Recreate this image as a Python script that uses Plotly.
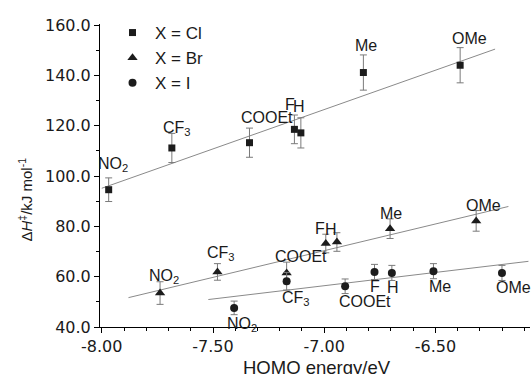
import numpy as np
import plotly.graph_objects as go

# ---------------- data ----------------
subst = ["NO<sub>2</sub>", "CF<sub>3</sub>", "COOEt", "F", "H", "Me", "OMe"]

cl_x = [-7.969, -7.685, -7.336, -7.134, -7.105, -6.824, -6.389]
cl_y = [94.6, 111.2, 113.3, 118.6, 117.2, 141.2, 144.1]
cl_err = [4.7, 5.8, 5.8, 5.7, 6.0, 7.0, 7.0]

br_x = [-7.738, -7.480, -7.169, -6.993, -6.943, -6.704, -6.317]
br_y = [53.5, 61.9, 61.5, 73.2, 73.8, 79.1, 82.2]
br_err = [4.5, 3.3, 4.3, 3.7, 3.7, 3.9, 4.1]

i_x = [-7.405, -7.169, -6.906, -6.774, -6.696, -6.509, -6.201]
i_y = [47.6, 58.2, 56.2, 61.9, 61.5, 62.2, 61.5]
i_err = [2.7, 3.5, 2.9, 3.0, 3.0, 3.0, 3.0]

series_names = ["X = Cl", "X = Br", "X = I"]
fit_ranges = [(-8.0, -6.232), (-7.880, -6.172), (-7.521, -6.082)]

x_tickvals = [-8.0, -7.5, -7.0, -6.5]
x_ticktext = ["-8.00", "-7.50", "-7.00", "-6.50"]
y_tickvals = [40, 60, 80, 100, 120, 140, 160]
y_ticktext = ["40.0", "60.0", "80.0", "100.0", "120.0", "140.0", "160.0"]

# label offsets in px (dx, dy up)
cl_off = [(4, 25), (5, 19), (18, 25), (-4, 25), (-2, 26), (3, 27), (9, 27)]
br_off = [(4, 17), (4, 18), (14, 16), (-6, 15), (-6, 13), (1, 15), (7, 15)]
i_off = [(8, -17), (9, -17), (20, -15), (0, -15), (1, -15), (7, -15), (12, -15)]

# ---------------- figure ----------------
fig = go.Figure()
mark_col = "#1c1c1c"
err_col = "#7a7a7a"
line_col = "#8a8a8a"

sets = [
    (cl_x, cl_y, cl_err, "square", 7, cl_off),
    (br_x, br_y, br_err, "triangle-up", 9, br_off),
    (i_x, i_y, i_err, "circle", 8, i_off),
]

for (xs, ys, es, sym, sz, offs), name, (x0, x1) in zip(sets, series_names, fit_ranges):
    k, b = np.polyfit(xs, ys, 1)
    lx = [x0, x1]
    fig.add_trace(go.Scatter(x=lx, y=[k * v + b for v in lx], mode="lines",
                             line=dict(color=line_col, width=1), showlegend=False,
                             hoverinfo="skip"))

for (xs, ys, es, sym, sz, offs), name in zip(sets, series_names):
    fig.add_trace(go.Scatter(
        x=xs, y=ys, mode="markers", name=name,
        marker=dict(symbol=sym, size=sz, color=mark_col, line=dict(width=0)),
        error_y=dict(type="data", array=es, visible=True, color=err_col,
                     thickness=1, width=3.5),
    ))
    for xv, yv, lab, (dx, dy) in zip(xs, ys, subst, offs):
        fig.add_annotation(x=xv, y=yv, xref="x", yref="y", text=lab, showarrow=False,
                           xshift=dx, yshift=dy,
                           font=dict(family="Liberation Sans", size=16, color="#1a1a1a"))

fig.add_annotation(x=0.505, y=0, xref="paper", yref="paper", yanchor="top",
                   yshift=-28, text="HOMO energy/eV", showarrow=False,
                   font=dict(family="Liberation Sans", size=18.5, color="#1a1a1a"))
fig.add_annotation(x=-0.172, y=0.4455, xref="paper", yref="paper", yshift=-8, xshift=-13,
                   text="Δ<i>H</i><sup>‡</sup>/kJ mol<sup>-1</sup>", textangle=-90,
                   showarrow=False,
                   font=dict(family="Liberation Sans", size=15, color="#1a1a1a"))

axis_common = dict(showline=True, linecolor="black", linewidth=1, showgrid=False,
                   zeroline=False, ticks="outside", ticklen=5, tickcolor="black",
                   tickfont=dict(family="DejaVu Sans", size=16, color="#1a1a1a"),
                   mirror=False)

fig.update_xaxes(range=[-8.008, -6.075], tickvals=x_tickvals, ticktext=x_ticktext,
                 minor=dict(dtick=0.1, tick0=-8.0, ticks="outside", ticklen=3,
                            tickcolor="black"),
                 **axis_common)
fig.update_yaxes(range=[40, 160.5], tickvals=y_tickvals, ticktext=y_ticktext,
                 minor=dict(dtick=10, tick0=40, ticks="outside", ticklen=3,
                            tickcolor="black"),
                 **axis_common)

fig.update_layout(
    width=532, height=374,
    margin=dict(l=100, r=2, t=24, b=47),
    plot_bgcolor="white", paper_bgcolor="white",
    legend=dict(x=0.0233, y=1.0297, xanchor="left", yanchor="top",
                font=dict(family="Liberation Sans", size=17, color="#1a1a1a"),
                bgcolor="rgba(0,0,0,0)", tracegroupgap=0, itemwidth=35),
    showlegend=True,
)

fig.write_html("out.html")
